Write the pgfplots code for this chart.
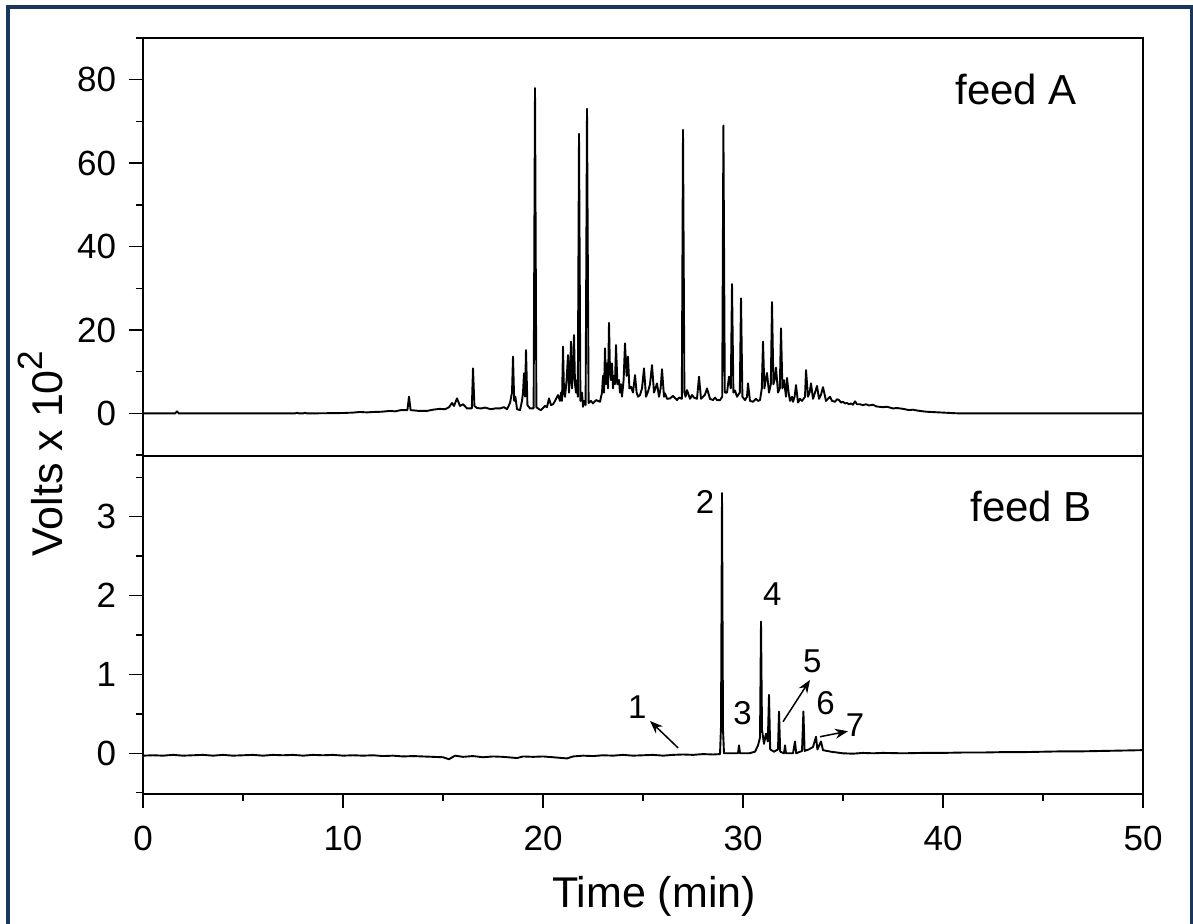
\documentclass[border=0pt]{standalone}
\usepackage{fontspec}
\setmainfont{Liberation Sans}
\usepackage{pgfplots}
\pgfplotsset{compat=1.18}
\usetikzlibrary{arrows.meta}
\definecolor{navyframe}{RGB}{24,55,95}
\begin{document}
\begin{tikzpicture}
\useasboundingbox (0,0) rectangle (596.5pt,462pt);
\draw[navyframe, line width=2pt] (4pt,-10pt) -- (4pt,458.5pt) -- (595.8pt,458.5pt) -- (595.8pt,-10pt);
\pgfplotsset{
  myaxis/.style={
    scale only axis, width=500pt, xmin=0, xmax=50,
    axis line style={line width=0.75pt, black},
    every tick/.style={line width=0.75pt, black},
    tick align=outside,
    major tick length=7.25pt, minor tick length=3.75pt,
    ticklabel style={font=\fontsize{17.5}{17.5}\selectfont, black},
    /pgf/number format/assume math mode=true,
    ytick pos=left, xtick pos=bottom,
    yticklabel style={inner sep=0pt, anchor=east, xshift=-6pt},
    xticklabel style={inner sep=0pt, anchor=north, yshift=-8.5pt},
    clip=false,
  },
  chrom/.style={black, line width=0.95pt, line join=round, mark=none},
}
% ---------------- top panel: feed A ----------------
\begin{axis}[myaxis, at={(71.5pt,234pt)}, anchor=south west, height=209pt,
  ymin=-10.2, ymax=90, ytick={0,20,40,60,80}, minor ytick={-10,10,30,50,70,90},
  xtick=\empty, minor xtick={}]
\addplot[chrom] coordinates {
(0,0) (1.6,0) (1.7,0.5) (1.8,0) (5,0) (7.6,0) (7.7,0.15) (7.8,0) (8.0,0) (8.1,0.15) (8.2,0)
(10,0.1) (10.5,0.2) (10.85,0.35) (11.2,0.25) (11.5,0.35) (11.9,0.4) (12.35,0.6) (12.6,0.5)
(12.9,0.8) (13.22,0.8) (13.3,4.0) (13.38,0.8) (13.6,0.7) (13.8,0.6) (14.2,0.6) (14.5,0.9)
(14.85,1.1) (15.1,1.0) (15.3,1.5) (15.45,2.5) (15.55,1.8) (15.7,3.6) (15.85,1.8) (16.0,2.2)
(16.2,1.2) (16.44,1.2) (16.5,10.8) (16.57,1.8) (16.7,1.3) (16.9,1.2) (17.1,1.4) (17.4,1.0)
(17.6,1.2) (17.85,1.2) (18.05,1.5) (18.2,1.0) (18.35,2.5) (18.45,5) (18.5,13.6) (18.56,3)
(18.62,4) (18.7,1) (18.85,0.8) (18.95,3) (19.0,5) (19.05,9.6) (19.1,4) (19.15,15.2) (19.22,2)
(19.35,1.2) (19.53,1.2) (19.6,78) (19.67,1.5) (19.8,1.0) (19.9,0.8) (20.1,1.8) (20.2,1.5)
(20.3,3.6) (20.4,2.0) (20.5,2.2) (20.6,3.0) (20.75,4.4) (20.85,3) (20.9,5) (20.95,3) (21.0,16)
(21.05,5) (21.1,4) (21.18,8) (21.25,14) (21.3,5) (21.35,9) (21.4,17.2) (21.45,6) (21.5,10)
(21.55,18.8) (21.6,7) (21.65,5) (21.7,8) (21.74,4) (21.8,67) (21.87,3) (21.95,5) (22.0,1.6)
(22.05,3) (22.13,2) (22.2,73) (22.28,2.5) (22.4,3) (22.5,2.4) (22.65,3.2) (22.85,2.8)
(22.95,5) (23.0,9) (23.05,5) (23.1,15.6) (23.15,7) (23.2,12) (23.25,6) (23.3,21.7) (23.35,10)
(23.4,8) (23.45,12) (23.5,6) (23.55,9) (23.6,7) (23.65,16.4) (23.72,7) (23.8,8) (23.85,5)
(23.9,7) (23.95,4) (24.03,8) (24.1,16.8) (24.18,9) (24.25,13.6) (24.32,6) (24.4,6.4) (24.5,5)
(24.6,9.2) (24.68,5) (24.75,4) (24.85,4.4) (24.95,6) (25.05,10.8) (25.15,4) (25.25,5.2)
(25.35,7) (25.45,11.6) (25.55,5) (25.62,6) (25.7,7.2) (25.8,4) (25.88,6) (25.95,10.6)
(26.05,4) (26.1,4.8) (26.2,3.5) (26.35,3.6) (26.5,4.2) (26.7,3.2) (26.8,3.8) (26.94,3.5)
(27.0,68) (27.07,5) (27.13,4) (27.2,5.6) (27.35,3.5) (27.45,4.4) (27.55,3.8) (27.7,3.5)
(27.8,8.8) (27.9,3.5) (28.0,4) (28.1,4.5) (28.2,6) (28.35,3.5) (28.5,3.2) (28.6,3.8) (28.7,3.2)
(28.85,3.2) (28.96,4) (29.02,69) (29.09,5) (29.2,5) (29.3,8.8) (29.39,6) (29.45,31) (29.52,5)
(29.6,5.5) (29.7,4) (29.84,5) (29.9,27.6) (29.97,4) (30.1,3.2) (30.2,4) (30.25,7.2) (30.35,3)
(30.5,2.8) (30.65,3.5) (30.75,3.0) (30.85,3.2) (30.94,6) (31.0,17.2) (31.07,6) (31.13,8)
(31.2,9.7) (31.3,5) (31.39,7) (31.45,26.7) (31.52,7) (31.58,8) (31.65,11) (31.75,5) (31.84,6)
(31.9,20.4) (31.97,6) (32.05,8) (32.15,4) (32.2,8.5) (32.28,5) (32.35,3) (32.45,4) (32.5,2.8)
(32.58,4) (32.65,6.8) (32.75,2.6) (32.85,3.5) (32.95,3) (33.1,4) (33.15,10.4) (33.25,4)
(33.33,5) (33.4,7.2) (33.5,3.5) (33.6,5) (33.7,6.6) (33.8,3.5) (33.9,4.5) (34.0,6.3) (34.15,3)
(34.25,3.5) (34.35,4) (34.45,3) (34.6,2.8) (34.7,3.4) (34.8,3.2) (34.9,2.6) (35.0,2.8)
(35.1,2.4) (35.2,2.5) (35.3,2.2) (35.4,2.4) (35.5,2.1) (35.6,2.9) (35.7,2.2) (35.85,2.2)
(36.0,2.0) (36.15,2.2) (36.3,1.9) (36.5,2.1) (36.65,1.7) (36.8,1.6) (37.0,1.5) (37.2,1.6)
(37.5,1.2) (37.7,1.3) (38.0,1.1) (38.3,0.8) (38.5,0.9) (38.7,0.7) (39.0,0.5) (39.2,0.4)
(39.6,0.3) (40.0,0.2) (40.4,0.1) (40.85,0) (42,0) (50,0)
};
\node[anchor=base west, inner sep=0pt, font=\fontsize{21}{21}\selectfont] at (axis cs:40.6,74) {feed A};
\end{axis}
% ---------------- bottom panel: feed B ----------------
\begin{axis}[myaxis, at={(71.5pt,65pt)}, anchor=south west, height=169pt,
  ymin=-0.516, ymax=3.77, ytick={0,1,2,3}, minor ytick={-0.5,0.5,1.5,2.5,3.5},
  xtick={0,10,20,30,40,50}, minor xtick={5,15,25,35,45}]
\addplot[chrom] coordinates {
(0,-0.03) (0.5,-0.025) (1,-0.03) (1.5,-0.02) (2,-0.03) (2.5,-0.025) (3,-0.02) (3.5,-0.03)
(4,-0.02) (4.5,-0.03) (5,-0.025) (5.5,-0.02) (6,-0.03) (6.5,-0.02) (7,-0.025) (7.5,-0.02)
(8,-0.03) (8.5,-0.02) (9,-0.025) (9.5,-0.02) (10,-0.03) (10.5,-0.025) (11,-0.03) (11.5,-0.025)
(12,-0.035) (12.5,-0.03) (13,-0.04) (13.5,-0.035) (14,-0.04) (14.5,-0.045) (15,-0.05)
(15.3,-0.075) (15.6,-0.03) (16.0,-0.045) (16.5,-0.035) (17,-0.05) (17.5,-0.04) (18,-0.045)
(18.7,-0.06) (19,-0.04) (19.5,-0.045) (20,-0.04) (20.5,-0.05) (21.2,-0.065) (21.5,-0.04)
(22,-0.03) (22.5,-0.035) (23,-0.025) (23.5,-0.03) (24,-0.02) (24.5,-0.03) (25,-0.025)
(25.5,-0.02) (26,-0.03) (26.5,-0.02) (27,-0.015) (27.5,-0.02) (28,-0.01) (28.5,-0.015)
(28.85,-0.01) (28.9,0.34) (28.95,3.30) (29.0,0.3) (29.05,0.0) (29.4,0.0) (29.75,0.0)
(29.8,0.1) (29.85,0.0) (30.3,0.0) (30.6,0.02) (30.75,0.1) (30.85,0.2) (30.9,1.67) (30.95,0.3)
(31.05,0.12) (31.15,0.25) (31.24,0.15) (31.3,0.74) (31.36,0.05) (31.55,0.02) (31.75,0.05)
(31.8,0.53) (31.86,0.02) (32.05,0.0) (32.1,0.1) (32.15,0.0) (32.5,0.0) (32.6,0.15)
(32.66,0.0) (32.95,0.03) (33.02,0.53) (33.08,0.03) (33.3,0.05) (33.5,0.08) (33.65,0.21)
(33.72,0.05) (33.9,0.15) (34.0,0.04) (34.4,0.02) (35,0.0) (35.5,-0.005) (36,0.005) (36.5,0)
(37,0.005) (38,0.0) (39,0.005) (40,0.005) (41,0.01) (42,0.01) (43,0.015) (44,0.015)
(45,0.02) (46,0.025) (47,0.025) (48,0.03) (49,0.035) (50,0.04)
};
\node[anchor=base west, inner sep=0pt, font=\fontsize{21}{21}\selectfont] at (axis cs:41.35,2.94) {feed B};
\begin{scope}[every node/.style={anchor=base, inner sep=0pt, font=\fontsize{16.5}{16.5}\selectfont}]
\node at (axis cs:24.72,0.44) {1};
\node at (axis cs:28.1,3.04) {2};
\node at (axis cs:29.98,0.36) {3};
\node at (axis cs:31.47,1.88) {4};
\node at (axis cs:33.47,1.02) {5};
\node at (axis cs:34.13,0.49) {6};
\node at (axis cs:35.6,0.21) {7};
\end{scope}
\begin{scope}[line width=0.75pt, -{Stealth[length=6.5pt, width=5pt]}]
\draw (axis cs:26.75,0.07) -- (axis cs:25.35,0.41);
\draw (axis cs:32.0,0.40) -- (axis cs:33.35,0.93);
\draw (axis cs:33.85,0.21) -- (axis cs:35.25,0.28);
\end{scope}
\end{axis}
\node[anchor=base, inner sep=0pt, font=\fontsize{21.5}{21.5}\selectfont] at (327pt,8pt) {Time (min)};
\node[rotate=90, anchor=base west, inner sep=0pt, font=\fontsize{21.5}{21.5}\selectfont] at (31pt,183.5pt) {Volts x 10\raisebox{10pt}{\fontsize{17.5}{17.5}\selectfont 2}};
\end{tikzpicture}
\end{document}
